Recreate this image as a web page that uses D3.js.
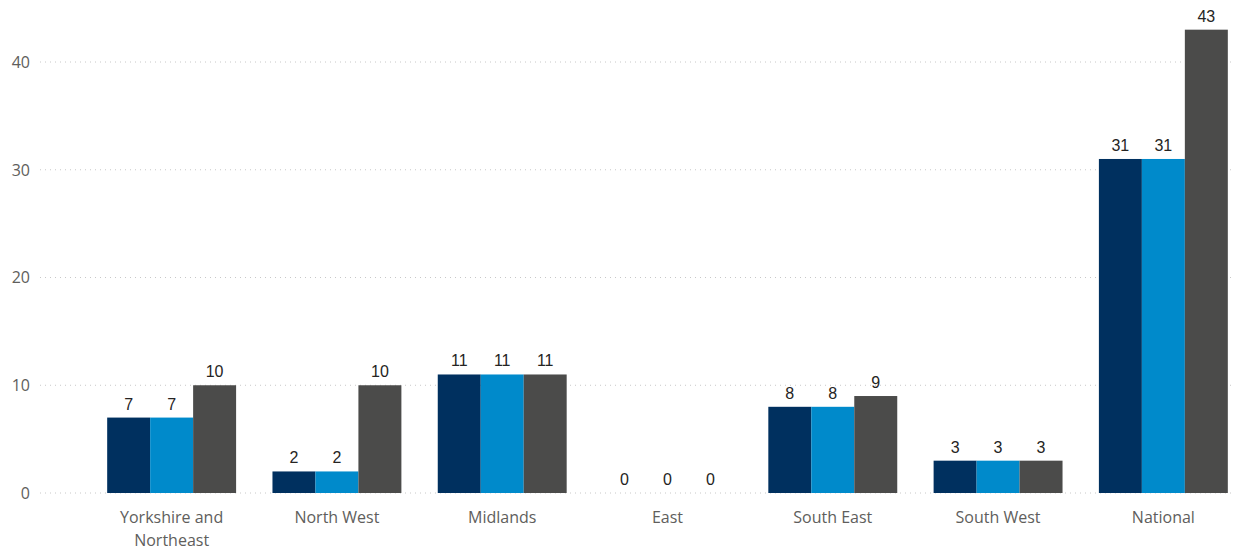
<!DOCTYPE html>
<html><head><meta charset="utf-8">
<script src="https://cdn.jsdelivr.net/npm/d3@7"></script>
<style>body{margin:0;background:#fff}</style>
</head><body>
<svg id="c" width="1234" height="551"></svg>
<script>
const categories = ["Yorkshire and Northeast","North West","Midlands","East","South East","South West","National"];
const series = ["A","B","C"];
const valuesA = [7,2,11,0,8,3,31];
const valuesB = [7,2,11,0,8,3,31];
const valuesC = [10,10,11,0,9,3,43];
const yTicks = [0,10,20,30,40];
const colors = ["#00305F","#008ACB","#4B4B4A"];

const svg = d3.select("#c");
const y = d3.scaleLinear().domain([0,40]).range([493,62]);
const x = d3.scaleBand().domain(categories).range([89,1246]).paddingInner(0.22).paddingOuter(0.11);
const xs = d3.scaleBand().domain(series).range([0,x.bandwidth()]);

// grid
svg.append("g").selectAll("line").data(yTicks).join("line")
  .attr("x1",40).attr("x2",1234).attr("y1",d=>y(d)).attr("y2",d=>y(d))
  .attr("stroke","#c8c8c8").attr("stroke-width",1).attr("stroke-dasharray","1,4");
// y labels
svg.append("g").selectAll("text").data(yTicks).join("text")
  .attr("x",30).attr("y",d=>y(d)).attr("dy","0.36em").attr("text-anchor","end")
  .attr("font-family","'Open Sans', sans-serif").attr("font-size",16).attr("fill","#605E5C")
  .text(d=>d);

const data = categories.map((c,i)=>({c, v:[valuesA[i],valuesB[i],valuesC[i]]}));
const g = svg.append("g").selectAll("g").data(data).join("g")
  .attr("transform",d=>`translate(${x(d.c)},0)`);
g.selectAll("rect").data(d=>d.v.map((v,j)=>({v,s:series[j],j}))).join("rect")
  .attr("x",d=>xs(d.s)).attr("width",xs.bandwidth())
  .attr("y",d=>y(d.v)).attr("height",d=>y(0)-y(d.v))
  .attr("fill",d=>colors[d.j]);
g.selectAll("text").data(d=>d.v.map((v,j)=>({v,s:series[j],j}))).join("text")
  .attr("x",d=>xs(d.s)+xs.bandwidth()/2).attr("y",d=>y(d.v)-8)
  .attr("text-anchor","middle").attr("font-family","'Liberation Sans', Arial, sans-serif")
  .attr("font-size",16).attr("fill","#252423").text(d=>d.v);

// x labels
const xl = svg.append("g").selectAll("text").data(categories).join("text")
  .attr("x",d=>x(d)+x.bandwidth()/2).attr("y",523).attr("text-anchor","middle")
  .attr("font-family","'Open Sans', sans-serif").attr("font-size",16).attr("fill","#605E5C");
xl.each(function(d){
  const t = d3.select(this);
  if (d==="Yorkshire and Northeast"){
    t.append("tspan").attr("x",x(d)+x.bandwidth()/2).text("Yorkshire and");
    t.append("tspan").attr("x",x(d)+x.bandwidth()/2).attr("dy",23).text("Northeast");
  } else t.text(d);
});
</script>
</body></html>
